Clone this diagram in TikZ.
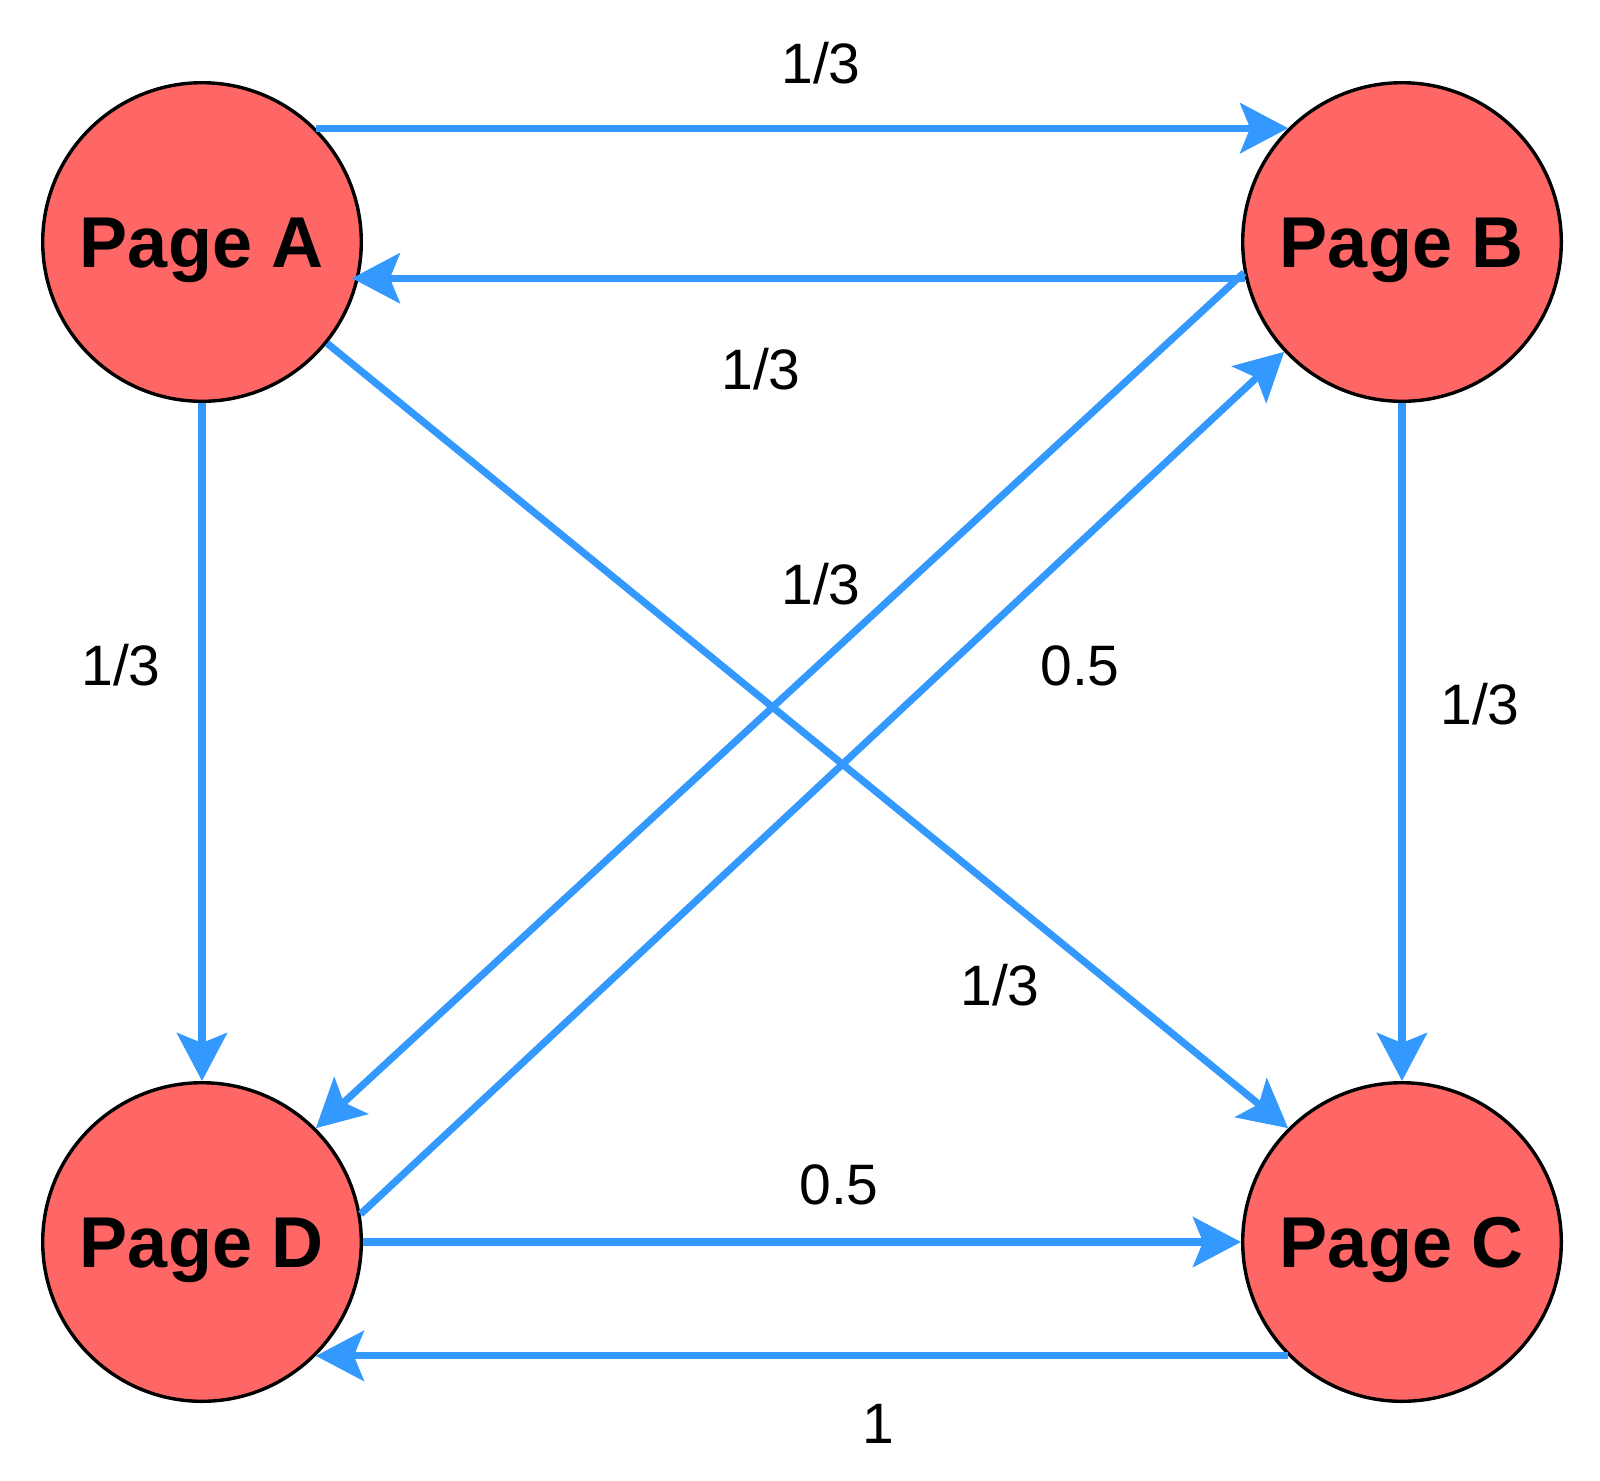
\documentclass[tikz,border=0pt]{standalone}
\usepackage{fontspec}
\setmainfont{Liberation Sans}
\usetikzlibrary{arrows.meta}
\definecolor{nodefill}{HTML}{FF6666}
\definecolor{linkblue}{HTML}{3399FF}
\begin{document}
\begin{tikzpicture}[x=0.5pt,y=-0.5pt,
  page/.style={circle, draw=black, line width=1.7pt, fill=nodefill,
    minimum size=159.3pt, inner sep=0pt,
    font=\fontsize{36}{40}\selectfont\bfseries, text height=25.8pt, text depth=0pt},
  link/.style={draw=linkblue, line width=3.6pt,
    -{Stealth[length=24pt,width=25pt,inset=5pt]}},
  weight/.style={font=\fontsize{28.5}{32}\selectfont, inner sep=0pt,
    text height=20.4pt, text depth=0pt}]
\useasboundingbox (0,0) rectangle (1600,1480);

% pages
\node[page] (A) at (202,242)  {Page A};
\node[page] (B) at (1402,242) {Page B};
\node[page] (D) at (202,1242) {Page D};
\node[page] (C) at (1402,1242) {Page C};

% links
\draw[link] (A.45) -- (B.135);
\draw[link, shorten >=-3.5pt] (B.193.6) -- (A.-13.6);
\draw[link] (A.-39.3) -- (C.135);
\draw[link] (B.191) -- (D.45);
\draw[link] (D.10) -- (B.223);
\draw[link] (A.south) -- (D.north);
\draw[link] (B.south) -- (C.north);
\draw[link] (D.east) -- (C.west);
\draw[link] (C.225) -- (D.-45);

% transition weights
\node[weight] (wAB) at (821,63)   {1/3};
\node[weight] (wBA) at (761,369)  {1/3};
\node[weight] (wBD) at (821,584)  {1/3};
\node[weight] (wDB) at (1080,665) {0.5};
\node[weight] (wAD) at (121,665)  {1/3};
\node[weight] (wBC) at (1480,704) {1/3};
\node[weight] (wAC) at (1000,985) {1/3};
\node[weight] (wDC) at (839,1184) {0.5};
\node[weight] (wCD) at (878,1423) {1};
\end{tikzpicture}
\end{document}
